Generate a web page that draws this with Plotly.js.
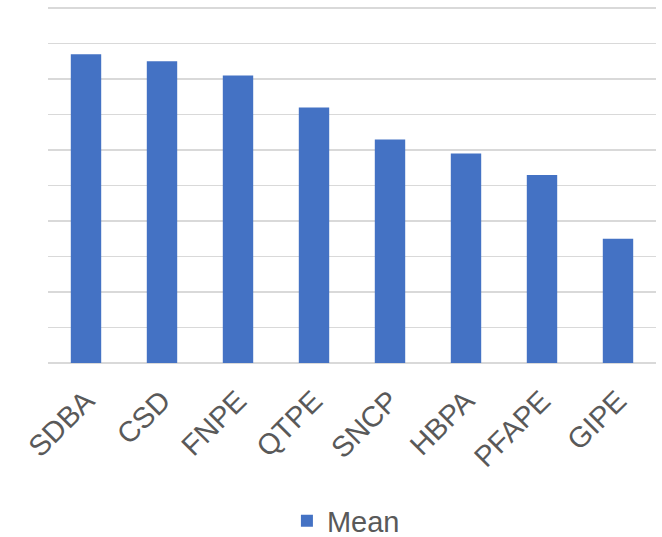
<!DOCTYPE html>
<html>
<head>
<meta charset="utf-8">
<script src="https://cdn.plot.ly/plotly-3.0.1.min.js"></script>
<style>html,body{margin:0;padding:0;background:#fff;}#chart{width:662px;height:537px;}</style>
</head>
<body>
<div id="chart"></div>
<script>
const categories = ["SDBA", "CSD", "FNPE", "QTPE", "SNCP", "HBPA", "PFAPE", "GIPE"];
const meanValues = [8.7, 8.5, 8.1, 7.2, 6.3, 5.9, 5.3, 3.5];
const seriesName = "Mean";

const trace = {
  type: "bar",
  x: categories,
  y: meanValues,
  name: seriesName,
  marker: {color: "#4472c4"},
  showlegend: true
};

const layout = {
  width: 662,
  height: 537,
  margin: {l: 48, r: 6, t: 7, b: 174},
  paper_bgcolor: "#ffffff",
  plot_bgcolor: "#ffffff",
  bargap: 0.6,
  font: {family: "Liberation Sans, Arial, sans-serif", color: "#595959"},
  xaxis: {
    type: "category",
    automargin: false,
    tickangle: -45,
    tickfont: {size: 29, color: "#595959"},
    ticklabelstandoff: 14,
    showgrid: false,
    showline: false,
    ticks: ""
  },
  yaxis: {
    range: [0, 10.03],
    dtick: 1,
    automargin: false,
    showticklabels: false,
    showgrid: true,
    gridcolor: "#d9d9d9",
    gridwidth: 1.5,
    zeroline: true,
    zerolinecolor: "#d9d9d9",
    zerolinewidth: 1.5,
    showline: false,
    ticks: ""
  },
  showlegend: true,
  legend: {
    orientation: "h",
    xref: "paper",
    x: 0.49,
    xanchor: "center",
    yref: "container",
    y: 0.03,
    yanchor: "middle",
    font: {size: 29, color: "#595959"}
  }
};

Plotly.newPlot("chart", [trace], layout, {displayModeBar: false, staticPlot: true});
</script>
</body>
</html>
